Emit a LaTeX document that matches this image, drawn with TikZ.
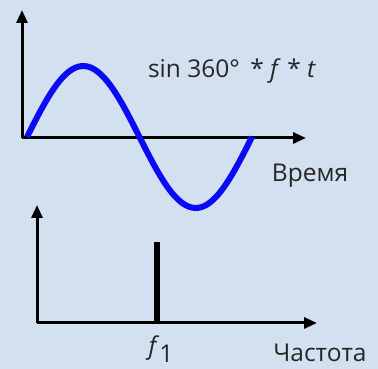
\documentclass[tikz,border=0pt]{standalone}
\usepackage{fontspec}
\setmainfont{Open Sans}
\usetikzlibrary{arrows.meta, positioning}

\definecolor{bgblue}{RGB}{210,224,240}
\definecolor{waveblue}{RGB}{10,10,245}

\begin{document}
\begin{tikzpicture}[
    x=1pt, y=1pt,
    axis/.style={line width=3pt, -{Triangle[length=13pt,width=11pt]}},
    wave/.style={line width=6pt, waveblue},
    label/.style={font=\fontsize{24.5}{26}\selectfont, inner sep=0pt, text=black!85}]

    % Background
    \fill[bgblue] (0,0) rectangle (378,369);
    \useasboundingbox (0,0) rectangle (378,369);

    % Define axis points
    \coordinate (O1) at (22,231);
    \coordinate (T1) at (22,359);
    \coordinate (X1) at (306,231);
    \coordinate (O2) at (37,46);
    \coordinate (T2) at (37,164);
    \coordinate (X2) at (317,46);

    % Time signal
    \draw[axis] (O1) -- (T1);
    \draw[axis] (O1) -- (X1);
    \draw[wave] plot[domain=27:252, samples=80, smooth]
        (\x, {232 + 71*sin(1.6*(\x-27))});
    \node[label] (formula) at (232,298) {sin 360°\, * \textit{f} * \textit{t}};
    \node[label] (time) at (310,193) {Время};

    % Spectrum
    \draw[axis] (O2) -- (T2);
    \draw[axis] (O2) -- (X2);
    \coordinate (F1) at (157,46);
    \coordinate (F1top) at (157,127);
    \draw[line width=6pt] (F1) -- (F1top);
    \node[label] (f1) at (161,20) {\textit{f}\raisebox{-8pt}{1}};
    \node[label] (freq) at (320,16) {Частота};
\end{tikzpicture}
\end{document}
